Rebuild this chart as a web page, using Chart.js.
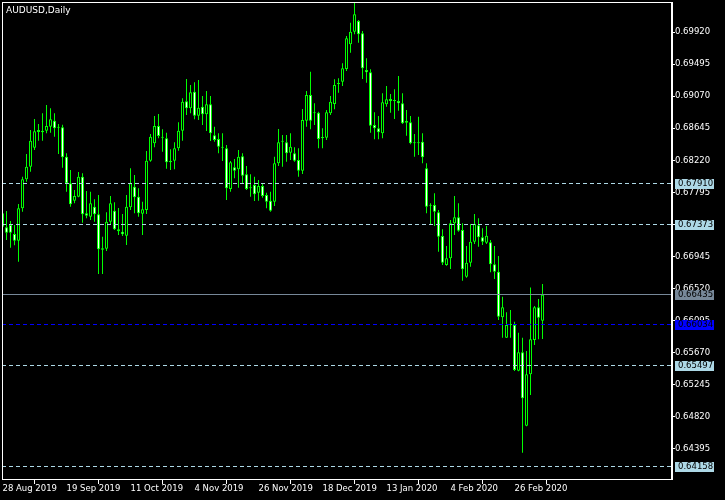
<!DOCTYPE html>
<html>
<head>
<meta charset="utf-8">
<title>AUDUSD,Daily</title>
<script src="https://cdn.jsdelivr.net/npm/chart.js@4.4.1/dist/chart.umd.min.js"></script>
<style>
  html, body { margin: 0; padding: 0; background: #000; }
  canvas { display: block; }
</style>
</head>
<body>
<canvas id="chart" width="725" height="500"></canvas>
<script>
// AUDUSD daily candles, 28 Aug 2019 .. 6 Mar 2020
const opens = [
  0.67516, 0.67330, 0.67361, 0.67242, 0.67152, 0.67583, 0.67968, 0.68135, 0.68388, 0.68623,
  0.68592, 0.68613, 0.68666, 0.68746, 0.68653, 0.68659, 0.68268, 0.67915, 0.67684, 0.67737,
  0.68002, 0.67516, 0.67471, 0.67604, 0.67503, 0.67052, 0.67046, 0.67405, 0.67551, 0.67304,
  0.67272, 0.67219, 0.67596, 0.67870, 0.67737, 0.67511, 0.67560, 0.68215, 0.68446, 0.68676,
  0.68520, 0.68512, 0.68211, 0.68215, 0.68380, 0.68613, 0.69004, 0.68911, 0.69131, 0.68812,
  0.68932, 0.68831, 0.68964, 0.68552, 0.68503, 0.68388, 0.68380, 0.67839, 0.68127, 0.68101,
  0.68273, 0.68034, 0.67848, 0.67892, 0.67790, 0.67879, 0.67759, 0.67684, 0.67670, 0.68180,
  0.68467, 0.68459, 0.68321, 0.68313, 0.68224, 0.68082, 0.68746, 0.69087, 0.68844, 0.68852,
  0.68516, 0.68520, 0.68844, 0.68968, 0.69234, 0.69264, 0.69433, 0.69761, 0.69928, 0.70070,
  0.69907, 0.69419, 0.69389, 0.68689, 0.68645, 0.68579, 0.68964, 0.69034, 0.69008, 0.69008,
  0.68977, 0.68742, 0.68725, 0.68446, 0.68446, 0.68467, 0.68114, 0.67617, 0.67627, 0.67530,
  0.67215, 0.66830, 0.66919, 0.67384, 0.67463, 0.67295, 0.66674, 0.66860, 0.67139, 0.67357,
  0.67198, 0.67126, 0.67131, 0.66839, 0.66741, 0.66135, 0.65864, 0.66033, 0.66033, 0.65426,
  0.65671, 0.64696, 0.65378, 0.65834, 0.66268, 0.66090
];
const highs = [
  0.67538, 0.67547, 0.67414, 0.67361, 0.67640, 0.68002, 0.68304, 0.68623, 0.68769, 0.68702,
  0.68844, 0.68955, 0.68911, 0.68844, 0.68702, 0.68693, 0.68313, 0.68091, 0.67826, 0.68065,
  0.68048, 0.67812, 0.67803, 0.67702, 0.67759, 0.67206, 0.67530, 0.67746, 0.67663, 0.67587,
  0.67507, 0.67759, 0.68114, 0.68025, 0.67848, 0.67670, 0.68344, 0.68570, 0.68809, 0.68835,
  0.68632, 0.68587, 0.68366, 0.68459, 0.68725, 0.69044, 0.69300, 0.69220, 0.69256, 0.69287,
  0.69074, 0.69141, 0.69074, 0.68666, 0.68579, 0.68579, 0.68423, 0.68211, 0.68238, 0.68357,
  0.68313, 0.68145, 0.68034, 0.68002, 0.67959, 0.67915, 0.67790, 0.67803, 0.68268, 0.68636,
  0.68556, 0.68556, 0.68579, 0.68393, 0.68380, 0.68902, 0.69141, 0.69397, 0.68977, 0.68866,
  0.68645, 0.68888, 0.69074, 0.69296, 0.69309, 0.69508, 0.69871, 0.70048, 0.70313, 0.70083,
  0.69937, 0.69575, 0.69429, 0.68858, 0.68809, 0.69110, 0.69207, 0.69101, 0.69163, 0.69340,
  0.69110, 0.68888, 0.68809, 0.68570, 0.68799, 0.68579, 0.68180, 0.67649, 0.67782, 0.67560,
  0.67304, 0.67082, 0.67427, 0.67746, 0.67649, 0.67384, 0.67082, 0.67374, 0.67507, 0.67450,
  0.67317, 0.67348, 0.67162, 0.67082, 0.66949, 0.66409, 0.66202, 0.66232, 0.66077, 0.65931,
  0.65864, 0.65688, 0.66531, 0.66285, 0.66378, 0.66578
];
const lows = [
  0.67317, 0.67162, 0.67060, 0.67091, 0.66874, 0.67538, 0.67936, 0.68069, 0.68357, 0.68481,
  0.68481, 0.68579, 0.68587, 0.68534, 0.68304, 0.68122, 0.67803, 0.67604, 0.67649, 0.67729,
  0.67392, 0.67450, 0.67427, 0.67405, 0.66710, 0.66710, 0.67016, 0.67374, 0.67295, 0.67228,
  0.67215, 0.67095, 0.67560, 0.67516, 0.67471, 0.67228, 0.67507, 0.68202, 0.68393, 0.68512,
  0.68334, 0.68109, 0.68091, 0.68101, 0.68348, 0.68481, 0.68822, 0.68844, 0.68765, 0.68755,
  0.68689, 0.68609, 0.68477, 0.68467, 0.68313, 0.68211, 0.67693, 0.67803, 0.67981, 0.67856,
  0.67906, 0.67826, 0.67737, 0.67680, 0.67684, 0.67724, 0.67583, 0.67538, 0.67613, 0.68145,
  0.68135, 0.68202, 0.68224, 0.68202, 0.68002, 0.68038, 0.68666, 0.68632, 0.68689, 0.68380,
  0.68380, 0.68490, 0.68822, 0.68898, 0.69118, 0.69207, 0.69406, 0.69649, 0.69894, 0.69782,
  0.69300, 0.69251, 0.68587, 0.68499, 0.68499, 0.68512, 0.68932, 0.68852, 0.68769, 0.68879,
  0.68702, 0.68547, 0.68433, 0.68268, 0.68291, 0.68180, 0.67516, 0.67361, 0.67348, 0.67006,
  0.66830, 0.66820, 0.66777, 0.67228, 0.67272, 0.66621, 0.66660, 0.66807, 0.67109, 0.67073,
  0.67095, 0.67109, 0.66733, 0.66644, 0.66099, 0.65864, 0.65860, 0.65864, 0.65422, 0.65420,
  0.64337, 0.64690, 0.65103, 0.65767, 0.65843, 0.65847
];
const closes = [
  0.67338, 0.67259, 0.67259, 0.67152, 0.67583, 0.67968, 0.68135, 0.68481, 0.68605, 0.68596,
  0.68613, 0.68676, 0.68765, 0.68645, 0.68653, 0.68260, 0.67915, 0.67636, 0.67746, 0.68002,
  0.67503, 0.67485, 0.67649, 0.67503, 0.67038, 0.67033, 0.67405, 0.67649, 0.67304, 0.67277,
  0.67238, 0.67604, 0.67915, 0.67729, 0.67516, 0.67569, 0.68215, 0.68534, 0.68676, 0.68543,
  0.68520, 0.68194, 0.68194, 0.68380, 0.68613, 0.68998, 0.68911, 0.69123, 0.68812, 0.68919,
  0.68831, 0.68964, 0.68579, 0.68490, 0.68401, 0.68388, 0.67848, 0.68194, 0.68082, 0.68268,
  0.68016, 0.67839, 0.67848, 0.67769, 0.67879, 0.67746, 0.67670, 0.67551, 0.68180, 0.68459,
  0.68467, 0.68313, 0.68401, 0.68215, 0.68082, 0.68755, 0.69087, 0.68746, 0.68844, 0.68503,
  0.68516, 0.68858, 0.68998, 0.69220, 0.69234, 0.69442, 0.69840, 0.69928, 0.70159, 0.69894,
  0.69442, 0.69389, 0.68680, 0.68645, 0.68592, 0.68990, 0.69030, 0.69008, 0.69008, 0.68977,
  0.68712, 0.68720, 0.68446, 0.68446, 0.68459, 0.68260, 0.67604, 0.67617, 0.67538, 0.67206,
  0.66860, 0.66919, 0.67384, 0.67463, 0.67285, 0.66773, 0.66860, 0.67139, 0.67374, 0.67198,
  0.67139, 0.67219, 0.66839, 0.66741, 0.66143, 0.66268, 0.66033, 0.66033, 0.65435, 0.65671,
  0.65060, 0.65378, 0.65843, 0.66268, 0.66130, 0.66435
];

// time axis: a label every 16 bars
const dateTicks = ['28 Aug 2019', '19 Sep 2019', '11 Oct 2019', '4 Nov 2019', '26 Nov 2019',
                   '18 Dec 2019', '13 Jan 2020', '4 Feb 2020', '26 Feb 2020'];
const dateTickStep = 16;

// price axis
const priceTicks = [0.69920, 0.69495, 0.69070, 0.68645, 0.68220, 0.67795, 0.67370,
                    0.66945, 0.66520, 0.66095, 0.65670, 0.65245, 0.64820, 0.64395];

// horizontal levels and their price tags
const levelPrices = [0.67910, 0.67373, 0.66435, 0.66034, 0.65497, 0.64158];
const levelColors = ['#add8e6', '#add8e6', '#778899', '#0000ff', '#add8e6', '#add8e6'];
const levelDashed = [true, true, false, true, true, true];

const symbolTitle = 'AUDUSD,Daily';

const UP = '#00ff00';
const FONT = 'DejaVu Sans';
const xMin = -0.125, xMax = 167.375;   // 4 px per bar, empty space on the right
const yMin = 0.63988, yMax = 0.70322;

Chart.defaults.font.family = FONT;
Chart.defaults.font.size = 8.5;
Chart.defaults.color = '#fff';

const idx = opens.map((_, i) => i);
const bodies = idx.map(i => ({ x: i, y: [opens[i], closes[i]] }));
const wicks = idx.map(i => ({ x: i, y: [lows[i], highs[i]] }));
const bodyFill = idx.map(i => closes[i] < opens[i] ? '#ffffff' : '#000000');

const levelSets = levelPrices.map((p, i) => ({
    type: 'line',
    level: p,
    data: [{ x: xMin, y: p }, { x: xMax, y: p }],
    borderColor: levelColors[i],
    borderWidth: 1,
    borderDash: levelDashed[i] ? [4, 3] : [],
    pointRadius: 0,
    order: 0
}));

// snap the 1px level lines onto a pixel row so they stay sharp
const crispLevels = {
    id: 'crispLevels',
    beforeDatasetDraw(chart, args) {
        const ds = chart.data.datasets[args.index];
        if (ds.level === undefined) return;
        const py = chart.scales.y.getPixelForValue(ds.level);
        chart.ctx.save();
        chart.ctx.translate(0, Math.floor(py) + 0.5 - py);
    },
    afterDatasetDraw(chart, args) {
        if (chart.data.datasets[args.index].level === undefined) return;
        chart.ctx.restore();
    }
};

// frame, price tags and symbol caption
const chartDecor = {
    id: 'chartDecor',
    afterDraw(chart) {
        const { ctx, chartArea: a, scales: { y } } = chart;
        ctx.save();
        ctx.fillStyle = '#fff';
        ctx.fillRect(a.left, a.top, a.right - a.left + 1, 1);
        ctx.fillRect(a.left, a.top, 1, a.bottom - a.top);
        ctx.fillRect(a.left, a.bottom, a.right - a.left, 1);
        ctx.fillRect(a.right - 1, a.top, 2, a.bottom - a.top + 1);

        ctx.font = `8.5px "${FONT}"`;
        ctx.textBaseline = 'middle';
        levelPrices.forEach((p, i) => {
            const py = Math.floor(y.getPixelForValue(p));
            ctx.fillStyle = levelColors[i];
            ctx.fillRect(a.right + 3, py - 4, 39, 10);
            ctx.fillStyle = '#000';
            ctx.fillText(p.toFixed(5), a.right + 6, py + 1);
        });

        ctx.font = `9px "${FONT}"`;
        ctx.fillStyle = '#fff';
        ctx.textBaseline = 'top';
        ctx.fillText(symbolTitle, a.left + 4, a.top + 4);
        ctx.restore();
    }
};

new Chart(document.getElementById('chart'), {
    type: 'bar',
    data: {
        datasets: [
            ...levelSets,
            {
                label: 'body',
                data: bodies,
                backgroundColor: bodyFill,
                borderColor: UP,
                borderWidth: 1,
                borderSkipped: false,
                barThickness: 3,
                minBarLength: 1,
                inflateAmount: 0,
                grouped: false,
                order: 1
            },
            {
                label: 'wick',
                data: wicks,
                backgroundColor: UP,
                borderWidth: 0,
                barThickness: 1,
                inflateAmount: 0,
                grouped: false,
                order: 2
            }
        ]
    },
    options: {
        responsive: false,
        animation: false,
        devicePixelRatio: 1,
        layout: { padding: { left: 2, top: 2, right: 0, bottom: 0 } },
        plugins: {
            legend: { display: false },
            tooltip: { enabled: false }
        },
        scales: {
            x: {
                type: 'linear',
                min: xMin,
                max: xMax,
                offset: false,
                border: { display: false },
                grid: { drawOnChartArea: false, drawTicks: true, tickLength: 5, color: '#fff' },
                ticks: {
                    color: '#fff',
                    align: 'start',
                    maxRotation: 0,
                    autoSkip: false,
                    padding: 0,
                    callback: (v, i) => dateTicks[i]
                },
                afterBuildTicks: s => { s.ticks = dateTicks.map((_, i) => ({ value: i * dateTickStep })); },
                afterFit: s => { s.height = 21; s.paddingLeft = 0; s.paddingRight = 0; }
            },
            y: {
                position: 'right',
                min: yMin,
                max: yMax,
                border: { display: false },
                grid: { drawOnChartArea: false, drawTicks: true, tickLength: 3, color: '#fff' },
                ticks: {
                    color: '#fff',
                    padding: 0,
                    callback: v => v.toFixed(5)
                },
                afterBuildTicks: s => { s.ticks = priceTicks.map(v => ({ value: v })); },
                afterFit: s => { s.width = 53; s.paddingTop = 0; s.paddingBottom = 0; }
            }
        }
    },
    plugins: [crispLevels, chartDecor]
});
</script>
</body>
</html>
